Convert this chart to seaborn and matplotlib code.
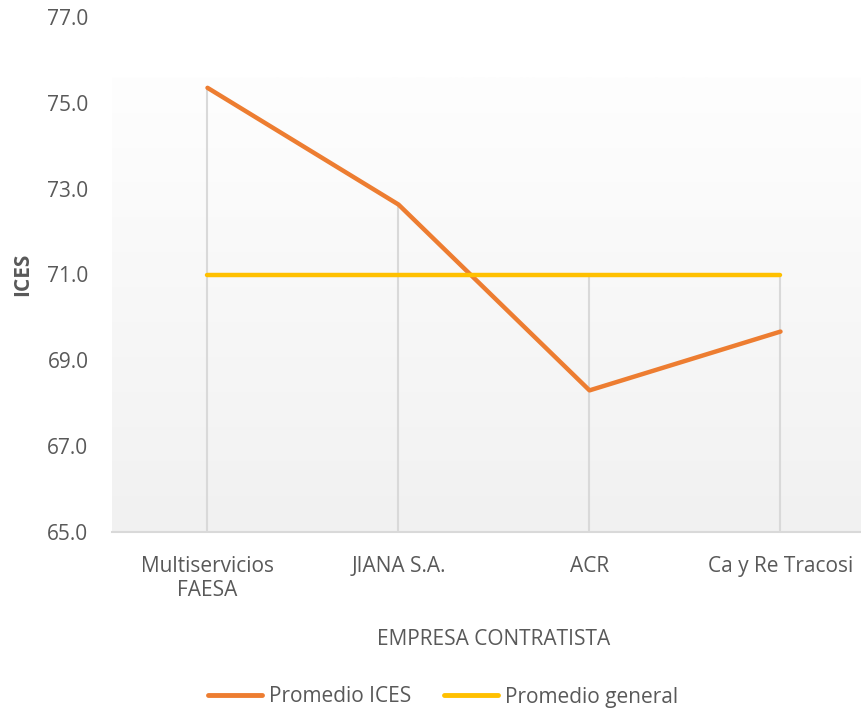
import matplotlib
matplotlib.use("Agg")
import matplotlib.pyplot as plt
import seaborn as sns
import numpy as np
import pandas as pd
from matplotlib.colors import LinearSegmentedColormap
from matplotlib.lines import Line2D

# datos del grafico
empresas = ["Multiservicios\nFAESA", "JIANA S.A.", "ACR", "Ca y Re Tracosi"]
promedio_ices = [75.35, 72.63, 68.3, 69.67]
promedio_general = [71.0, 71.0, 71.0, 71.0]
series = ["Promedio ICES", "Promedio general"]
colores = ["#ED7D31", "#FFC000"]
y_ticks = [65.0, 67.0, 69.0, 71.0, 73.0, 75.0, 77.0]

df = pd.DataFrame({
    "empresa": empresas * 2,
    "valor": promedio_ices + promedio_general,
    "serie": [series[0]] * len(empresas) + [series[1]] * len(empresas),
})

sns.set_style("white")
plt.rcParams["font.family"] = ["Open Sans", "DejaVu Sans"]
texto = "#595959"
fs = 15

fig = plt.figure(figsize=(8.62, 7.11), dpi=100)
ax = fig.add_axes([112 / 862, 179 / 711, 764 / 862, 515 / 711])

# fondo degradado
cmap = LinearSegmentedColormap.from_list("fondo", ["#f1f1f1", "#fefefe"])
grad = np.linspace(0, 1, 256).reshape(-1, 1)
ax.imshow(grad, cmap=cmap, origin="lower", aspect="auto",
          extent=(-0.5, 3.5, 65, 75.6), zorder=0)

# lineas de caida
pos = np.arange(len(empresas))
ax.vlines(pos, 65, np.maximum(promedio_ices, promedio_general),
          color="#d9d9d9", lw=1.5, zorder=1)

sns.lineplot(data=df, x="empresa", y="valor", hue="serie", palette=colores,
             sort=False, lw=3.2, ax=ax, legend=False, zorder=3)

ax.set_xlim(-0.5, 3.5)
ax.set_ylim(65, 77)
ax.set_yticks(y_ticks)
ax.set_yticklabels([f"{v:.1f}" for v in y_ticks])
ax.tick_params(axis="both", length=0, colors=texto, labelsize=fs)
ax.tick_params(axis="x", pad=17)
ax.tick_params(axis="y", pad=17)
for lab in ax.get_xticklabels():
    lab.set_multialignment("center")

for s in ["left", "right", "top"]:
    ax.spines[s].set_visible(False)
ax.spines["bottom"].set_color("#d9d9d9")
ax.spines["bottom"].set_linewidth(1.5)
ax.grid(False)

ax.set_xlabel("EMPRESA CONTRATISTA", color=texto, fontsize=fs, labelpad=20)
ax.set_ylabel("ICES", color=texto, fontsize=fs, fontweight="bold", labelpad=10)

handles = [Line2D([0], [0], color=c, lw=3.5) for c in colores]
fig.legend(handles, series, loc="center", bbox_to_anchor=(443 / 862, 1 - 697 / 711),
           ncol=2, frameon=False, fontsize=fs, handlelength=2.6,
           handletextpad=0.3, columnspacing=1.6, labelcolor=texto)

fig.savefig("out.png", dpi=100)
